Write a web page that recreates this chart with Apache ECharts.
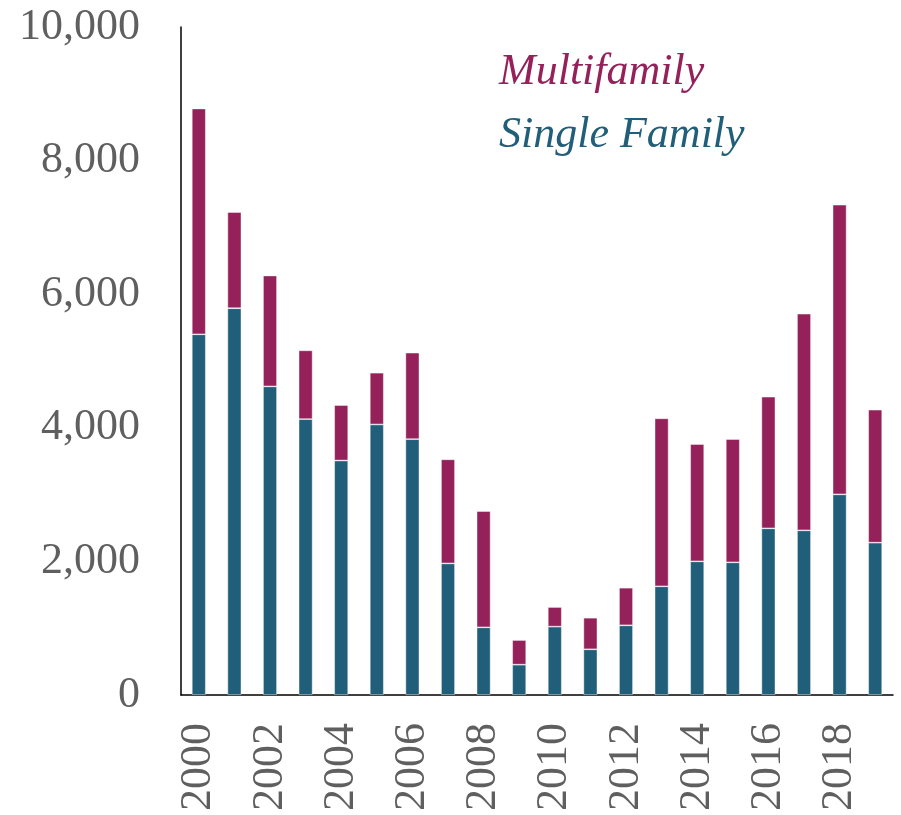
<!DOCTYPE html>
<html>
<head>
<meta charset="utf-8">
<script src="https://cdn.jsdelivr.net/npm/echarts@6/dist/echarts.min.js"></script>
<style>
html,body{margin:0;padding:0;background:#fff;}
#chart{width:901px;height:815px;}
</style>
</head>
<body>
<div id="chart"></div>
<script>
var years = ['2000','2001','2002','2003','2004','2005','2006','2007','2008','2009','2010','2011','2012','2013','2014','2015','2016','2017','2018','2019'];
var singleFamily = [5400,5790,4620,4130,3510,4050,3830,1970,1013,454,1023,684,1043,1627,2001,1986,2495,2465,3004,2280];
var multifamily = [3380,1440,1660,1030,830,775,1295,1558,1741,369,294,473,563,2515,1756,1846,1971,3243,4336,1991];
var yTicks = [0,2000,4000,6000,8000,10000];

var FONT = '"Liberation Serif", "DejaVu Serif", serif';
var TEAL = '#215e79';
var MAROON = '#94215a';

var chart = echarts.init(document.getElementById('chart'), null, {renderer:'canvas'});
chart.setOption({
  animation: false,
  backgroundColor: '#ffffff',
  grid: {left: 181, right: 8, top: 27, bottom: 120, containLabel: false},
  legend: {
    orient: 'vertical',
    left: 493,
    top: 45,
    itemWidth: 0,
    itemHeight: 0,
    itemGap: 19,
    selectedMode: false,
    textStyle: {fontFamily: FONT, fontSize: 44, fontStyle: 'italic', padding: [0,0,0,-5]},
    data: [
      {name: 'Multifamily', icon: 'rect', textStyle: {color: MAROON}},
      {name: 'Single Family', icon: 'rect', textStyle: {color: TEAL}}
    ]
  },
  xAxis: {
    type: 'category',
    data: years,
    axisLine: {show: true, lineStyle: {color: '#000', width: 1.5}},
    axisTick: {show: false},
    axisLabel: {
      interval: 1,
      rotate: 90,
      margin: 28,
      color: '#5f5f5f',
      fontFamily: FONT,
      fontSize: 44
    },
    splitLine: {show: false}
  },
  yAxis: {
    type: 'value',
    min: yTicks[0],
    max: yTicks[yTicks.length-1],
    interval: yTicks[1]-yTicks[0],
    axisLine: {show: true, lineStyle: {color: '#000', width: 1.5}},
    axisTick: {show: false},
    splitLine: {show: false},
    axisLabel: {
      margin: 41,
      color: '#5f5f5f',
      fontFamily: FONT,
      fontSize: 44,
      formatter: function(v){ return v.toLocaleString('en-US'); }
    }
  },
  series: [
    {
      name: 'Single Family',
      type: 'bar',
      stack: 'total',
      barWidth: 14,
      data: singleFamily,
      itemStyle: {color: TEAL, borderColor: 'rgba(255,255,255,0.55)', borderWidth: 0.8}
    },
    {
      name: 'Multifamily',
      type: 'bar',
      stack: 'total',
      barWidth: 14,
      data: multifamily,
      itemStyle: {color: MAROON, borderColor: 'rgba(255,255,255,0.55)', borderWidth: 0.8}
    }
  ]
});
</script>
</body>
</html>
